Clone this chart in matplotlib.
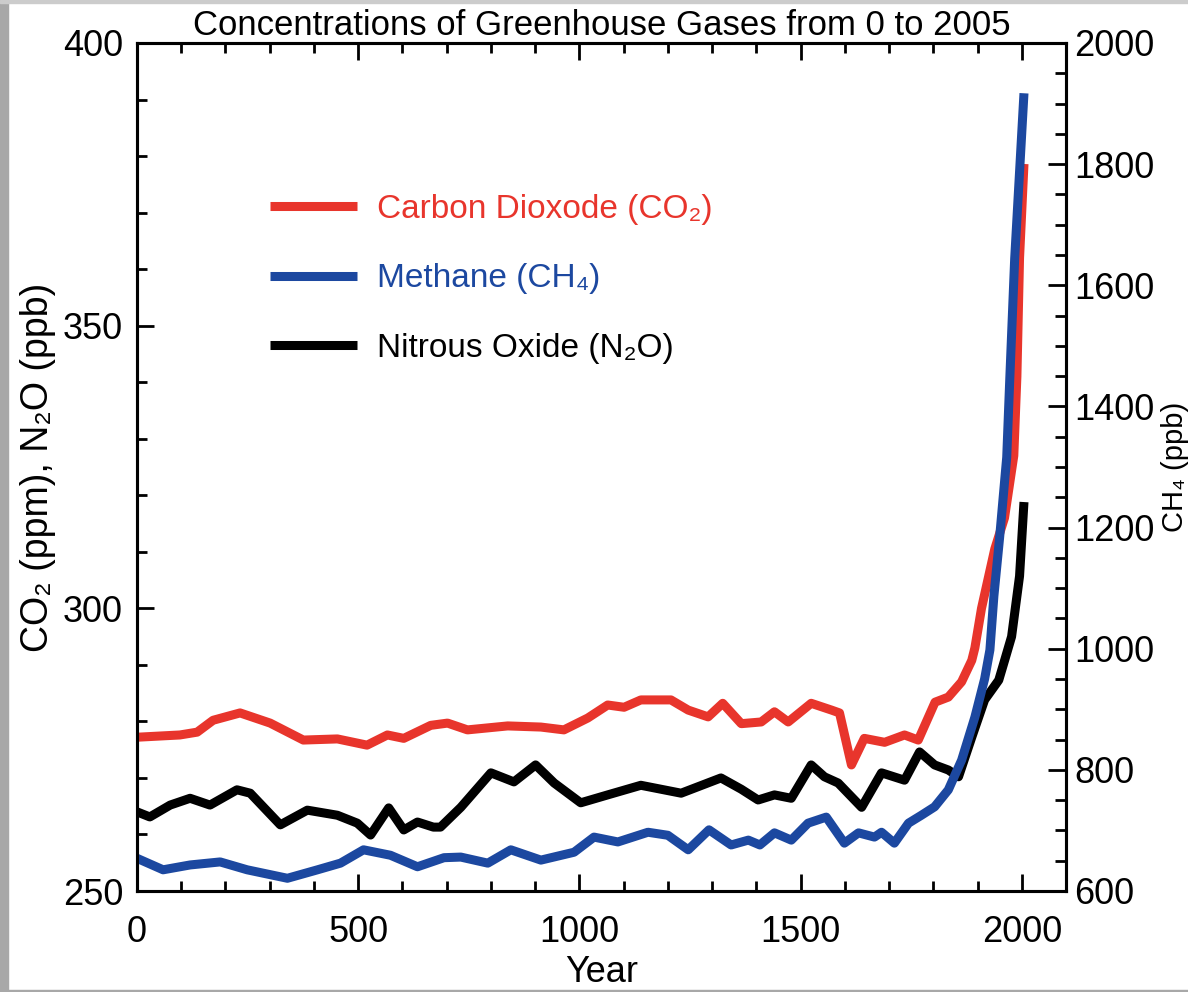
import matplotlib
matplotlib.use("Agg")
import matplotlib.pyplot as plt
from matplotlib.patches import Rectangle
from matplotlib.ticker import MultipleLocator

plt.rcParams['font.family'] = ['Liberation Sans', 'DejaVu Sans']

# CO2 (ppm)
co2_year = [0, 97, 136, 172, 233, 301, 376, 453, 520, 566, 603, 664, 702, 747, 838,
            913, 965, 1019, 1064, 1101, 1139, 1207, 1246, 1291, 1324, 1366, 1411,
            1441, 1472, 1524, 1570, 1588, 1615, 1644, 1690, 1735, 1766, 1804, 1834,
            1864, 1887, 1894, 1909, 1939, 1961, 1982, 1989, 1995, 2005]
co2_ppm = [277.2, 277.6, 278.1, 280.2, 281.5, 279.7, 276.7, 276.9, 275.8, 277.6,
           277.0, 279.3, 279.7, 278.5, 279.2, 279.0, 278.5, 280.6, 282.9, 282.5,
           283.8, 283.8, 282.0, 280.8, 283.2, 279.6, 279.9, 281.7, 279.9, 283.2,
           282.0, 281.5, 272.3, 277.0, 276.3, 277.6, 276.7, 283.4, 284.3, 287.0,
           290.8, 293.0, 300.0, 310.5, 316.0, 327.0, 341.0, 362.0, 378.6]

# CH4 (ppb)
ch4_year = [0, 59, 120, 188, 249, 340, 408, 460, 512, 573, 634, 694, 732, 793, 845,
            913, 988, 1033, 1087, 1155, 1200, 1246, 1293, 1343, 1382, 1408, 1441,
            1479, 1517, 1558, 1599, 1631, 1667, 1683, 1712, 1744, 1773, 1803, 1834,
            1864, 1894, 1916, 1928, 1937, 1950, 1966, 1973, 1984, 2005]
ch4_ppb = [654, 635, 643, 648, 635, 621, 635, 646, 668, 659, 640, 655, 656, 646, 668,
           651, 664, 689, 681, 697, 692, 668, 701, 676, 684, 676, 696, 684, 712, 722,
           679, 696, 689, 697, 679, 712, 725, 739, 767, 816, 887, 950, 998, 1087,
           1184, 1316, 1447, 1644, 1917]

# N2O (ppb)
n2o_year = [0, 29, 75, 120, 165, 226, 256, 324, 385, 453, 498, 528, 569, 603, 634,
            670, 686, 732, 800, 852, 901, 943, 1003, 1064, 1139, 1230, 1320, 1366,
            1404, 1441, 1479, 1524, 1554, 1585, 1638, 1683, 1735, 1769, 1803, 1834,
            1857, 1887, 1916, 1948, 1962, 1977, 1995, 2005]
n2o_ppb = [264.0, 263.1, 265.2, 266.4, 265.2, 267.9, 267.3, 261.7, 264.3, 263.4,
           262.0, 259.9, 264.7, 260.8, 262.2, 261.3, 261.3, 264.8, 270.9, 269.3,
           272.3, 269.1, 265.6, 267.0, 268.7, 267.3, 270.0, 268.0, 266.1, 267.0,
           266.4, 272.3, 270.2, 269.1, 264.8, 270.9, 269.6, 274.6, 272.3, 271.4,
           270.2, 277.2, 283.8, 287.3, 291.0, 295.0, 305.7, 318.8]

red = '#e8352c'
blue = '#1c48a0'
lw = 6.5

fig = plt.figure(figsize=(11.88, 9.92), dpi=100)
ax = fig.add_axes([137 / 1188, 1 - 891 / 992, (1066 - 137) / 1188, (891 - 43) / 992])
ax2 = ax.twinx()

l_co2, = ax.plot(co2_year, co2_ppm, color=red, lw=lw, solid_joinstyle='round',
                 solid_capstyle='butt', label='Carbon Dioxode (CO₂)')
l_n2o, = ax.plot(n2o_year, n2o_ppb, color='black', lw=lw, solid_joinstyle='round',
                 solid_capstyle='butt', label='Nitrous Oxide (N₂O)')
l_ch4, = ax2.plot(ch4_year, ch4_ppb, color=blue, lw=lw, solid_joinstyle='round',
                  solid_capstyle='butt', label='Methane (CH₄)')

ax.set_xlim(0, 2100)
ax.set_ylim(250, 400)
ax2.set_ylim(600, 2000)

ax.set_xticks([0, 500, 1000, 1500, 2000])
ax.xaxis.set_minor_locator(MultipleLocator(100))
ax.set_yticks([250, 300, 350, 400])
ax.yaxis.set_minor_locator(MultipleLocator(10))
ax2.set_yticks(range(600, 2001, 200))
ax2.yaxis.set_minor_locator(MultipleLocator(50))

ax.tick_params(axis='x', which='both', direction='in', top=True, bottom=True,
               labelsize=26, pad=17, width=2)
ax.tick_params(axis='y', which='both', direction='in', left=True, right=False,
               labelsize=26, pad=10, width=2)
ax.tick_params(which='major', length=12)
ax.tick_params(which='minor', length=7)
ax2.tick_params(axis='y', which='both', direction='in', labelsize=26, pad=6, width=2)
ax2.tick_params(which='major', length=13)
ax2.tick_params(which='minor', length=8)

for sp in ax.spines.values():
    sp.set_linewidth(2.2)
for sp in ax2.spines.values():
    sp.set_linewidth(2.2)

ax.set_title('Concentrations of Greenhouse Gases from 0 to 2005', fontsize=25, pad=6)
ax.set_xlabel('Year', fontsize=26)
ax.xaxis.set_label_coords(0.5, -0.076)
ax.set_ylabel('CO₂ (ppm), N₂O (ppb)', fontsize=27)
ax.yaxis.set_label_coords(-0.087, 0.5)
ax2.set_ylabel('CH₄ (ppb)', fontsize=21, rotation=90)
ax2.yaxis.set_label_coords(1.102, 0.5)

ax2.legend(handles=[l_co2, l_ch4, l_n2o], loc='upper left', bbox_to_anchor=(0.143, 0.822),
           frameon=False, fontsize=24, handlelength=2.6, handletextpad=0.6,
           labelspacing=1.15, borderpad=0, borderaxespad=0, labelcolor='linecolor')

# grey screenshot border
fig.patches.append(Rectangle((0, 0), 8 / 1188, 1, transform=fig.transFigure,
                             color='#a8a8a8', zorder=-1))
fig.patches.append(Rectangle((0, 1 - 3 / 992), 1, 3 / 992, transform=fig.transFigure,
                             color='#cccccc', zorder=-1))
fig.patches.append(Rectangle((0, 0), 1, 2 / 992, transform=fig.transFigure,
                             color='#a8a8a8', zorder=-1))

fig.savefig('out.png', dpi=100)
